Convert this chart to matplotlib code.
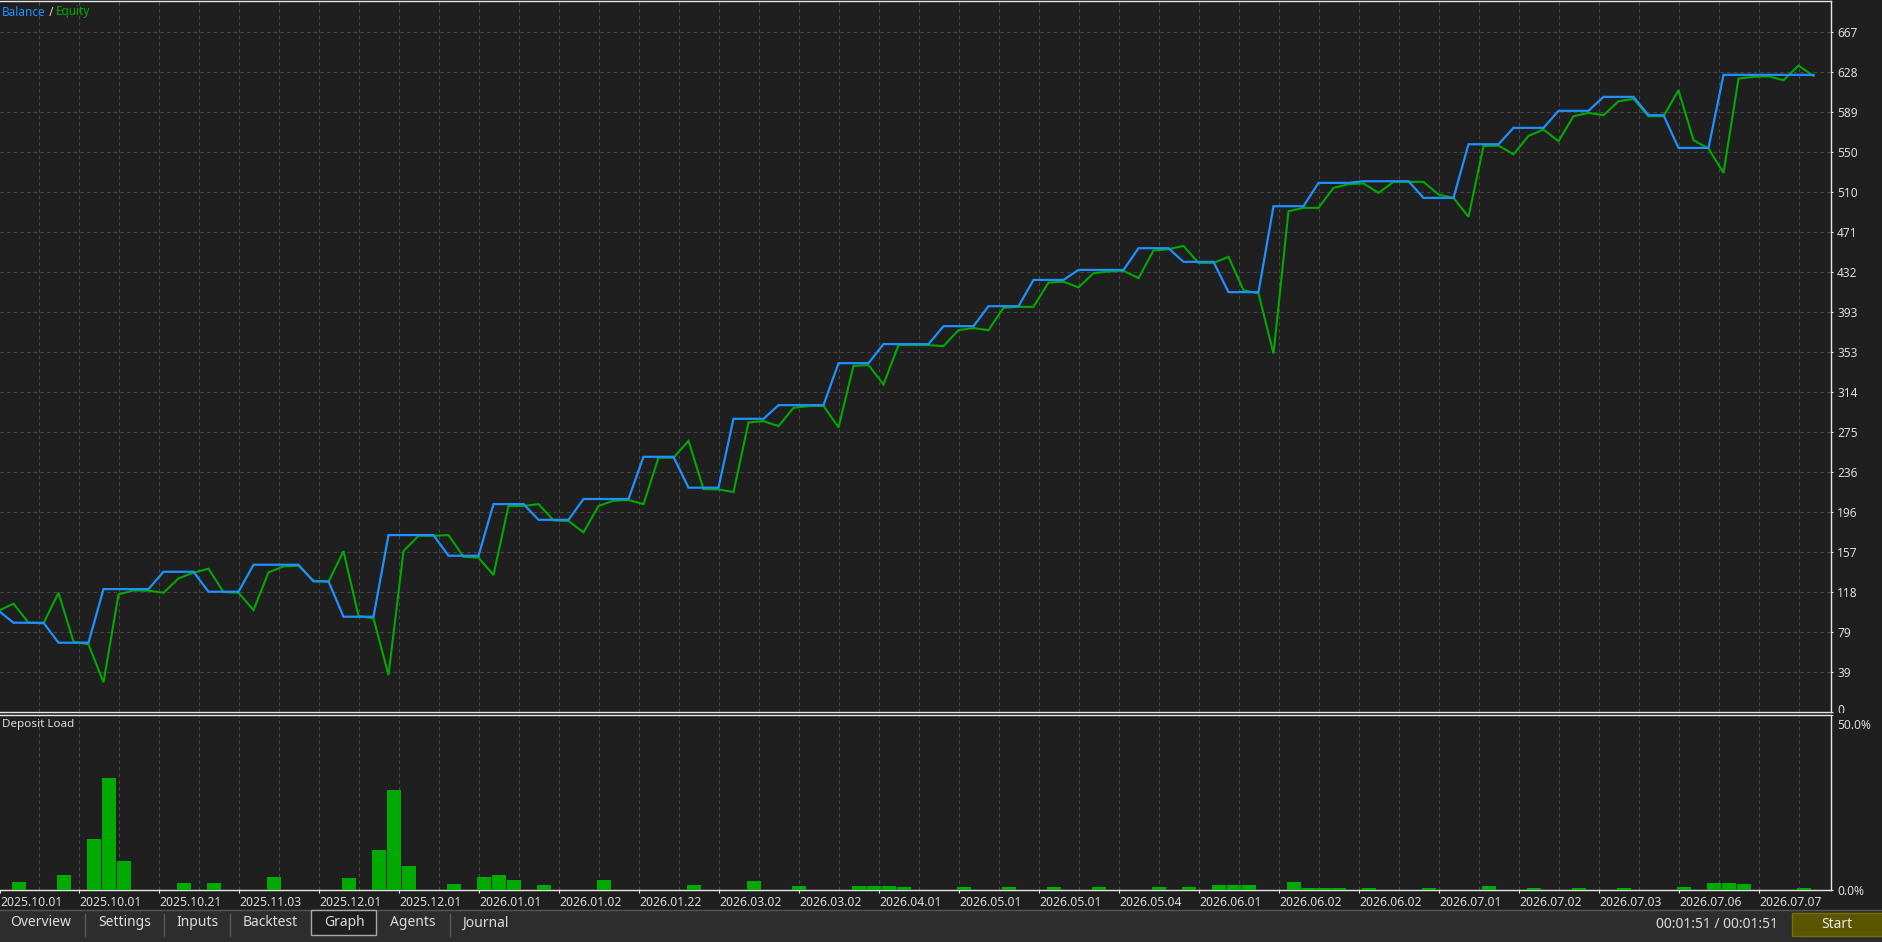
import numpy as np
import matplotlib.pyplot as plt
from matplotlib.patches import Rectangle
from matplotlib.lines import Line2D
from matplotlib.transforms import Bbox, ScaledTranslation

plt.rcParams['font.family'] = ['Noto Sans', 'DejaVu Sans']

# Colours
BG = '#1f1f1f'
BAR_BG = '#2d2d2d'
GRID = '#4a4a4a'
BORDER = '#e6e6e6'
TXT = '#dcdcdc'
BLUE = '#1e90ff'
GREEN = '#00aa00'

# Balance / Equity, one value per deal (deal 0..121)
balance = [
    99.4, 87.6, 87.6, 87.6, 68.0, 68.0, 68.0, 120.6, 120.6, 120.6,
    120.6, 137.6, 137.6, 137.6, 118.0, 118.0, 118.0, 144.5, 144.5, 144.5,
    144.5, 128.2, 128.2, 93.5, 93.5, 93.5, 173.6, 173.6, 173.6, 173.6,
    153.3, 153.3, 153.3, 204.0, 204.0, 204.0, 188.6, 188.6, 188.6, 209.0,
    209.0, 209.0, 209.0, 250.4, 250.4, 250.4, 220.1, 220.1, 220.1, 287.7,
    287.7, 287.7, 301.1, 301.1, 301.1, 301.1, 342.3, 342.3, 342.3, 361.0,
    361.0, 361.0, 361.0, 378.6, 378.6, 378.6, 398.2, 398.2, 398.2, 424.0,
    424.0, 424.0, 433.8, 433.8, 433.8, 433.8, 455.1, 455.1, 455.1, 441.7,
    441.7, 441.7, 412.0, 412.0, 412.0, 496.3, 496.3, 496.3, 519.2, 519.2,
    519.2, 520.8, 520.8, 520.8, 520.8, 504.5, 504.5, 504.5, 557.1, 557.1,
    557.1, 573.2, 573.2, 573.2, 589.9, 589.9, 589.9, 603.6, 603.6, 603.6,
    585.6, 585.6, 553.5, 553.5, 553.5, 625.2, 625.2, 625.2, 625.2, 625.2,
    625.2, 625.2,
]
equity = [
    99.4, 106.3, 87.6, 87.0, 117.0, 69.0, 66.4, 29.1, 115.4, 119.3,
    119.0, 117.0, 131.1, 136.7, 140.6, 117.7, 117.0, 100.0, 137.0, 142.9,
    143.5, 128.8, 127.8, 157.9, 94.2, 91.9, 36.3, 157.9, 172.9, 172.9,
    173.6, 152.3, 151.4, 134.4, 202.1, 202.1, 204.0, 188.0, 187.4, 176.3,
    202.1, 207.3, 208.0, 204.0, 249.5, 249.5, 266.1, 218.7, 218.4, 215.8,
    284.1, 285.4, 280.5, 298.5, 300.1, 300.5, 279.2, 339.7, 340.4, 321.4,
    360.0, 360.0, 360.0, 359.0, 374.7, 376.7, 374.7, 396.6, 397.6, 397.6,
    421.3, 422.3, 416.6, 430.6, 432.2, 432.9, 425.7, 452.8, 454.1, 457.4,
    440.7, 440.7, 446.6, 413.9, 410.7, 351.8, 491.4, 494.7, 494.7, 514.3,
    517.9, 518.6, 509.4, 520.2, 520.2, 520.2, 507.8, 504.5, 485.9, 555.2,
    555.8, 547.3, 565.3, 571.5, 560.1, 584.6, 587.9, 585.6, 599.3, 601.6,
    584.6, 584.6, 610.1, 561.1, 552.9, 529.0, 621.5, 623.2, 623.8, 619.9,
    634.3, 624.1,
]
deals = np.arange(len(balance))

# Deposit load (%) per deal
load_deal = [1, 4, 6, 7, 8, 12, 14, 18, 23, 25, 26, 27, 30, 32, 33, 34, 36, 40, 46, 50,
             53, 57, 58, 59, 60, 64, 67, 70, 73, 77, 79, 81, 82, 83, 86, 87, 88, 89, 91, 95,
             99, 102, 105, 108, 112, 114, 115, 116, 120]
load_pct = [2.3, 4.3, 14.7, 31.9, 8.3, 2.0, 2.0, 3.7, 3.4, 11.5, 28.7, 6.9, 1.7, 3.7, 4.3, 2.9, 1.4, 2.9, 1.4, 2.6,
            1.1, 1.1, 1.1, 1.1, 0.9, 0.9, 0.9, 0.9, 0.9, 0.9, 0.9, 1.4, 1.4, 1.4, 2.3, 0.6, 0.6, 0.6, 0.6, 0.6,
            1.2, 0.6, 0.6, 0.6, 0.9, 2.0, 2.0, 1.7, 0.6]

# Axis labels
y_tick_labels = ['0', '39', '79', '118', '157', '196', '236', '275', '314', '353',
                 '393', '432', '471', '510', '550', '589', '628', '667']
y_step = 39.25
date_labels = ['2025.10.01', '2025.10.01', '2025.10.21', '2025.11.03', '2025.12.01', '2025.12.01',
               '2026.01.01', '2026.01.02', '2026.01.22', '2026.03.02', '2026.03.02', '2026.04.01',
               '2026.05.01', '2026.05.01', '2026.05.04', '2026.06.01', '2026.06.02', '2026.06.02',
               '2026.07.01', '2026.07.02', '2026.07.03', '2026.07.06', '2026.07.07']
tab_names = ['Overview', 'Settings', 'Inputs', 'Backtest', 'Graph', 'Agents', 'Journal']

# Layout in pixels
W, H = 1883, 942
def fx(x): return x / W
def fy(y): return 1 - y / H

fig = plt.figure(figsize=(W / 100, H / 100), dpi=100, facecolor=BG)
ax = fig.add_axes([0, fy(712), fx(1831), (712 - 1) / H], zorder=0)
ax2 = fig.add_axes([0, fy(890), fx(1831), (890 - 715) / H], zorder=2)

px_per_deal = 15
x0 = 0.1
xlim = (x0, x0 + 1831 / px_per_deal)
grid_x = (np.arange(1, 46) * 40 - 1) / px_per_deal + x0
lab_x = np.r_[0, np.arange(1, len(date_labels)) * 80 - 1] / px_per_deal + x0

for a in (ax, ax2):
    a.set_facecolor(BG)
    a.set_xlim(*xlim)
    a.spines['left'].set_visible(False)
    for s in ('top', 'right', 'bottom'):
        a.spines[s].set_color(BORDER)
        a.spines[s].set_linewidth(1)
    a.yaxis.tick_right()

# --- Balance / Equity
ax.plot(deals, equity, color=GREEN, lw=1.5, zorder=3, solid_joinstyle='miter')
ax.plot(deals, balance, color=BLUE, lw=1.6, zorder=4, solid_joinstyle='miter')
ax.set_ylim(0, 711 * (17 * y_step) / 680)
ax.set_yticks(np.arange(len(y_tick_labels)) * y_step)
ax.set_yticklabels(y_tick_labels)
ax.set_xticks(grid_x)
ax.tick_params(axis='x', length=0, labelbottom=False)
ax.tick_params(axis='y', length=1.5, pad=3, color=BORDER, labelcolor=TXT, labelsize=8.6)
ax.grid(True, color=GRID, ls=(0, (3, 3)), lw=0.8)
ax.set_axisbelow(True)

# "0" sits on the panel edge: nudge it up a little and cut it at the lower panel
zero_lbl = ax.get_yticklabels()[0]
zero_lbl.set_transform(zero_lbl.get_transform() + ScaledTranslation(0, 3 / 100, fig.dpi_scale_trans))
zero_lbl.set_clip_box(Bbox.from_extents(0, H - 713, W, H))
zero_lbl.set_clip_on(True)

t1 = ax.annotate('Balance', xy=(fx(2), fy(12)), xycoords='figure fraction',
                 color=BLUE, fontsize=8.5, va='center', ha='left')
t2 = ax.annotate(' / ', xy=(1, 0.5), xycoords=t1, color='#e8d8c0', fontsize=8.5, va='center', ha='left')
ax.annotate('Equity', xy=(1, 0.5), xycoords=t2, color=GREEN, fontsize=8.5, va='center', ha='left')

# --- Deposit load
ax2.bar(np.array(load_deal) - 0.1, load_pct, width=14 / 15, align='edge', color='#00aa00', zorder=3)
ax2.set_ylim(0, 50)
ax2.set_yticks([0, 50])
ax2.set_yticklabels(['0.0%', '50.0%'])
ax2.tick_params(axis='y', length=1.5, pad=3, color=BORDER, labelcolor=TXT, labelsize=8.6)
top_lbl = ax2.get_yticklabels()[1]
top_lbl.set_va('top')
top_lbl.set_transform(top_lbl.get_transform() + ScaledTranslation(0, -4 / 100, fig.dpi_scale_trans))
ax2.xaxis.remove_overlapping_locs = False
ax2.set_xticks(lab_x)
ax2.set_xticklabels(date_labels, ha='left')
ax2.set_xticks(grid_x, minor=True)
ax2.tick_params(axis='x', which='major', length=2.5, pad=1.5, color=BORDER, labelcolor=TXT, labelsize=8.8)
ax2.tick_params(axis='x', which='minor', length=0)
ax2.grid(True, which='minor', axis='x', color=GRID, ls=(0, (3, 3)), lw=0.8)
ax2.set_axisbelow(True)
fig.text(fx(2), fy(725), 'Deposit Load', color=TXT, fontsize=8.4, va='center', ha='left')

# --- bottom tab bar
fig.patches.append(Rectangle((0, 0), 1, (H - 910) / H, transform=fig.transFigure,
                             facecolor=BAR_BG, edgecolor='none', zorder=1))
fig.add_artist(Line2D([0, 1], [fy(910), fy(910)], color='#555555', lw=1, transform=fig.transFigure, zorder=1.5))
fig.patches.append(Rectangle((fx(311), fy(935)), fx(65), (935 - 910) / H, transform=fig.transFigure,
                             facecolor=BG, edgecolor='#a8a8a8', lw=1, zorder=1.6))
for sx in [85, 164, 230, 450]:
    fig.add_artist(Line2D([fx(sx), fx(sx)], [fy(936), fy(914)], color='#5a5a5a', lw=1,
                          transform=fig.transFigure, zorder=1.6))
tab_x = [41, 125, 197, 270, 344, 413, 485]
for name, cx in zip(tab_names, tab_x):
    fig.text(fx(cx), fy(923), name, color=TXT, fontsize=10, ha='center', va='center')

fig.text(fx(1778), fy(925), '00:01:51 / 00:01:51', color=TXT, fontsize=10, ha='right', va='center')
fig.patches.append(Rectangle((fx(1792), fy(936)), fx(91), (936 - 913) / H, transform=fig.transFigure,
                             facecolor='#5c5500', edgecolor='#787000', lw=1, zorder=1.6))
fig.text(fx(1837), fy(925), 'Start', color='#e8e8e8', fontsize=10, ha='center', va='center')

fig.savefig('out.png', dpi=100, facecolor=fig.get_facecolor())
